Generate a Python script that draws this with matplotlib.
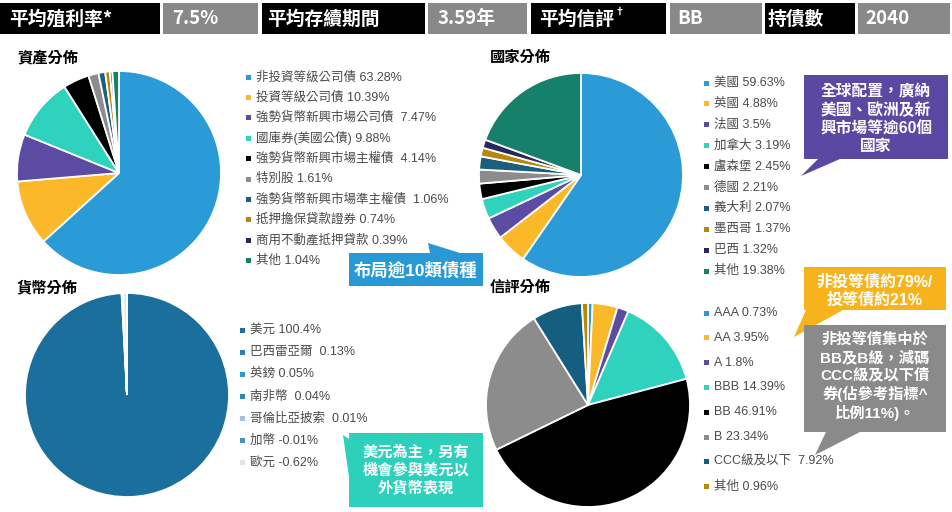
import numpy as np
import matplotlib
matplotlib.use('Agg')
import matplotlib.pyplot as plt
from matplotlib.patches import Polygon, Rectangle

plt.rcParams['font.family'] = ['Noto Sans CJK TC', 'DejaVu Sans']

# 頂部摘要列
summary_labels = ['平均殖利率*', '7.5%', '平均存續期間', '3.59年', '平均信評', 'BB', '持債數', '2040']

# 資產分佈
asset_names = ['非投資等級公司債', '投資等級公司債', '強勢貨幣新興市場公司債', '國庫券(美國公債)',
               '強勢貨幣新興市場主權債', '特別股', '強勢貨幣新興市場準主權債', '抵押擔保貸款證券',
               '商用不動產抵押貸款', '其他']
asset_values = [63.28, 10.39, 7.47, 9.88, 4.14, 1.61, 1.06, 0.74, 0.39, 1.04]
asset_labels = ['非投資等級公司債 63.28%', '投資等級公司債 10.39%', '強勢貨幣新興市場公司債  7.47%',
                '國庫券(美國公債) 9.88%', '強勢貨幣新興市場主權債  4.14%', '特別股 1.61%',
                '強勢貨幣新興市場準主權債  1.06%', '抵押擔保貸款證券 0.74%', '商用不動產抵押貸款 0.39%',
                '其他 1.04%']

# 國家分佈
country_names = ['美國', '英國', '法國', '加拿大', '盧森堡', '德國', '義大利', '墨西哥', '巴西', '其他']
country_values = [59.63, 4.88, 3.5, 3.19, 2.45, 2.21, 2.07, 1.37, 1.32, 19.38]

# 貨幣分佈
currency_names = ['美元', '巴西雷亞爾', '英鎊', '南非幣', '哥倫比亞披索', '加幣', '歐元']
currency_values = [100.4, 0.13, 0.05, 0.04, 0.01, -0.01, -0.62]
currency_labels = ['美元 100.4%', '巴西雷亞爾  0.13%', '英鎊 0.05%', '南非幣  0.04%',
                   '哥倫比亞披索  0.01%', '加幣 -0.01%', '歐元 -0.62%']

# 信評分佈
rating_names = ['AAA', 'AA', 'A', 'BBB', 'BB', 'B', 'CCC級及以下', '其他']
rating_values = [0.73, 3.95, 1.8, 14.39, 46.91, 23.34, 7.92, 0.96]
rating_labels = ['AAA 0.73%', 'AA 3.95%', 'A 1.8%', 'BBB 14.39%', 'BB 46.91%', 'B 23.34%',
                 'CCC級及以下  7.92%', '其他 0.96%']

palette = ['#2a9bd7', '#fbb829', '#5b4ba3', '#2fd3bd', '#000000', '#8c8c8c',
           '#1c5f7c', '#b8860b', '#29285a', '#17806b']
rating_colors = ['#2a9bd7', '#fbb829', '#5b4ba3', '#2fd3bd', '#000000', '#8c8c8c',
                 '#155e80', '#b8860b']
currency_colors = ['#1b6f9c', '#2c7fb2', '#2f98d0', '#2a87be', '#a6c2db', '#4d90bd', '#dde5ee']

W, H = 953, 512
fig = plt.figure(figsize=(W / 100, H / 100), dpi=100)
fig.patch.set_facecolor('white')


def pie_at(cx, cy, r, values, colors):
    ax = fig.add_axes([(cx - r) / W, 1 - (cy + r) / H, 2 * r / W, 2 * r / H])
    ax.pie(values, colors=colors, startangle=90, counterclock=False, radius=1,
           wedgeprops=dict(edgecolor='white', linewidth=1.3))
    ax.set_xlim(-1, 1)
    ax.set_ylim(-1, 1)
    ax.set_aspect('auto')
    ax.axis('off')
    return ax


pie_at(119, 173, 102, asset_values, palette)
pie_at(581, 175, 102, country_values, palette)
pie_at(127, 395, 102, np.abs(currency_values), currency_colors)
pie_at(588, 405, 102, rating_values, rating_colors)

# 疊加層：像素座標
ov = fig.add_axes([0, 0, 1, 1])
ov.set_xlim(0, W)
ov.set_ylim(H, 0)
ov.axis('off')

# 摘要列
cells = [(0, 160), (163, 258), (262, 425), (428, 527), (531, 666), (670, 762), (765, 855), (858, 950)]
text_x = [9, 172, 267, 438, 539, 677, 768, 865]
bar_font = ['Liberation Sans Narrow', 'Noto Sans CJK TC', 'DejaVu Sans']
for i, ((x0, x1), lab) in enumerate(zip(cells, summary_labels)):
    ov.add_patch(Rectangle((x0, 3), x1 - x0, 31, color='black' if i % 2 == 0 else '#898989', lw=0))
    ov.text(text_x[i], 19, lab, color='white', fontsize=13.5, fontweight='bold',
            va='center', ha='left', family=bar_font)
ov.text(615, 12, '†', color='white', fontsize=7, fontweight='bold', va='center', ha='left')

# 標題
title_kw = dict(fontsize=11, fontweight='bold', color='black', va='center', ha='left')
ov.text(17, 58, '資產分佈', **title_kw)
ov.text(490, 57, '國家分佈', **title_kw)
ov.text(17, 287, '貨幣分佈', **title_kw)
ov.text(490, 287, '信評分佈', **title_kw)

# 圖例
leg_font = ['Liberation Sans', 'Noto Sans CJK TC', 'DejaVu Sans']


def legend(mx, tx, y0, dy, labels, colors):
    for k, (lab, c) in enumerate(zip(labels, colors)):
        y = y0 + k * dy
        ov.add_patch(Rectangle((mx - 2.5, y - 2.5), 5, 5, color=c, lw=0))
        ov.text(tx, y, lab, fontsize=9, color='#4a4a4a', va='center', ha='left', family=leg_font)


legend(249, 256, 77, 20.4, asset_labels, palette)
legend(707, 714, 83, 20.9, [f'{n} {v}%' for n, v in zip(country_names, country_values)], palette)
legend(243, 250, 330, 22.1, currency_labels, currency_colors)
legend(707, 714, 313, 24.8, rating_labels, rating_colors)

# 說明框
callouts = [
    ('#2899d5', [(349, 253), (430, 253), (428, 243), (460, 253), (483, 253), (483, 286), (349, 286)],
     (416, 270), '布局逾10類債種', 12.5),
    ('#5b48a3', [(804, 75), (948, 75), (948, 159), (840, 159), (801, 176), (818, 159), (804, 159)],
     (876, 119), '全球配置，廣納\n美國、歐洲及新\n興市場等逾60個\n國家', 11.3),
    ('#f7b31c', [(804, 267), (946, 267), (946, 310), (843, 310), (794, 337), (806, 310), (804, 310)],
     (875, 291), '非投等債約79%/\n投等債約21%', 11.5),
    ('#8a8a8a', [(804, 325), (946, 325), (946, 432), (860, 432), (815, 455), (826, 432), (804, 432)],
     (875, 377), '非投等債集中於\nBB及B級，減碼\nCCC級及以下債\n券(佔參考指標^\n比例11%)。', 11),
    ('#2dd0bb', [(349, 433), (483, 433), (483, 507), (349, 507), (349, 477), (343, 435), (349, 439)],
     (416, 470), '美元為主，另有\n機會參與美元以\n外貨幣表現', 11),
]
for color, pts, (tx, ty), txt, fs in callouts:
    ov.add_patch(Polygon(pts, closed=True, facecolor=color, edgecolor='none'))
    ov.text(tx, ty, txt, color='white', fontsize=fs, fontweight='bold', ha='center', va='center',
            linespacing=1.25, family=leg_font)

fig.savefig('out.png', dpi=100, facecolor='white')
